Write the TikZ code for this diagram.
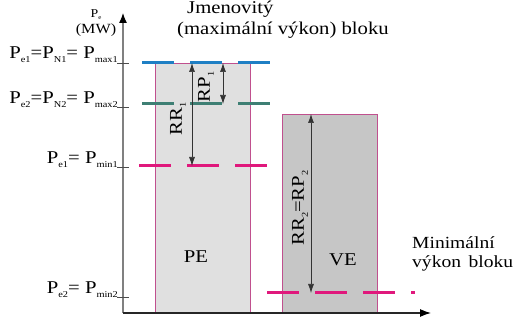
\documentclass[tikz,border=0pt]{standalone}
\usepackage{fontspec}
\setmainfont{Liberation Serif}[FakeStretch=1.15]
\usetikzlibrary{arrows.meta}
\definecolor{lnblue}{HTML}{1F7FC4}
\definecolor{lnteal}{HTML}{3E7F74}
\definecolor{lnmag}{HTML}{E0187C}
\definecolor{boxedge}{HTML}{C0508E}
\definecolor{pefill}{HTML}{E0E0E0}
\definecolor{vefill}{HTML}{C6C6C6}
\newcommand\sbx[1]{\raisebox{-4pt}{\fontsize{9}{9}\selectfont #1}}
\tikzset{
  txt/.style={inner sep=0pt,font=\fontsize{18}{21}\selectfont},
  block/.style={draw=boxedge,line width=0.9pt,inner sep=0pt},
  level/.style={line width=3pt,dash pattern=on 32pt off 16pt},
  dim/.style={draw=black!80,line width=0.7pt,{Latex[length=9pt,width=6pt]}-{Latex[length=9pt,width=6pt]}},
  axis/.style={line width=1.2pt},
  tick/.style={draw=black!70,line width=0.8pt}
}
\begin{document}
\begin{tikzpicture}[x=1pt,y=-1pt]
\useasboundingbox (0,0) rectangle (520,320);
% blocks
\node[block,fill=pefill,minimum width=95pt,minimum height=250pt,anchor=north west] (pe) at (155,63) {};
\node[block,fill=vefill,minimum width=95pt,minimum height=199pt,anchor=north west] (ve) at (282,114) {};
% axes
\coordinate (o) at (123,313);
\coordinate (ytop) at (123,13);
\coordinate (xend) at (431,313);
\draw[axis,draw=black!50,-{Latex[length=10pt,width=8pt]},arrows={-{Latex[length=10pt,width=8pt,color=black]}}] (o) -- (ytop);
\draw[axis,draw=black!85,arrows={-{Latex[length=11pt,width=8pt,color=black]}}] (o) -- (xend);
% ticks
\foreach \yy/\nm in {63/t1,107/t2,167/t3,297/t4}{
  \coordinate (\nm a) at (117,\yy);
  \coordinate (\nm b) at (129,\yy);
  \draw[tick] (\nm a) -- (\nm b);
}
% level lines
\coordinate (b1) at (142,63);  \coordinate (b2) at (270,63);
\coordinate (g1) at (142,104); \coordinate (g2) at (270,104);
\coordinate (m1) at (139,166); \coordinate (m2) at (267,166);
\coordinate (n1) at (267,293); \coordinate (n2) at (415,293);
\draw[level,lnblue] (b1) -- (b2);
\draw[level,lnteal] (g1) -- (g2);
\draw[level,lnmag] (m1) -- (m2);
\draw[level,lnmag] (n1) -- (n2);
% dimension arrows
\coordinate (rr1t) at (192,63);  \coordinate (rr1b) at (192,166);
\coordinate (rp1t) at (223,63);  \coordinate (rp1b) at (223,104);
\coordinate (rr2t) at (311,114); \coordinate (rr2b) at (311,293);
\draw[dim] (rr1t) -- (rr1b);
\draw[dim] (rp1t) -- (rp1b);
\draw[dim] (rr2t) -- (rr2b);
\node[txt,rotate=90] (lrr1) at (178,119) {RR\sbx{1}};
\node[txt,rotate=90] (lrp1) at (206,87) {RP\sbx{1}};
\node[txt,rotate=90] (lrr2) at (300,208) {RR\sbx{2}=RP\sbx{2}};
% axis labels
\node[txt,anchor=base,font=\fontsize{12}{12}\selectfont] (pe0) at (96,18) {P\raisebox{-2pt}{\fontsize{6}{6}\selectfont e}};
\node[txt,anchor=base,font=\fontsize{14}{14}\selectfont] (mw) at (96,34) {(MW)};
\node[txt,anchor=base east] (l1) at (118,59) {P\sbx{e1}=P\sbx{N1}= P\sbx{max1}};
\node[txt,anchor=base east] (l2) at (118,104) {P\sbx{e2}=P\sbx{N2}= P\sbx{max2}};
\node[txt,anchor=base east] (l3) at (118,164) {P\sbx{e1}= P\sbx{min1}};
\node[txt,anchor=base east] (l4) at (118,294) {P\sbx{e2}= P\sbx{min2}};
% text
\node[txt,anchor=base west,align=left] (jm) at (177,35) {\hspace*{10pt}Jmenovitý\\(maximální výkon) bloku};
\node[txt,anchor=base west,align=left,font=\fontsize{17}{19}\selectfont] (mn) at (412,268) {Minimální\\výkon\hspace{0.45em}bloku};
\node[txt,anchor=base] (lpe) at (196,263) {PE};
\node[txt,anchor=base] (lve) at (343,266) {VE};
\end{tikzpicture}
\end{document}
